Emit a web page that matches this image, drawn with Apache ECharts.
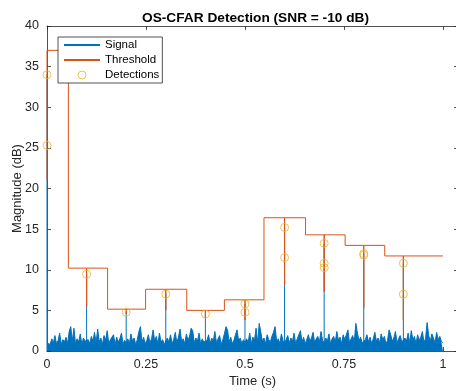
<!DOCTYPE html>
<html>
<head>
<meta charset="utf-8">
<script src="https://cdn.jsdelivr.net/npm/echarts@6/dist/echarts.min.js"></script>
<style>
html,body{margin:0;padding:0;background:#fff;}
#chart{width:456px;height:391px;}
</style>
</head>
<body>
<div id="chart"></div>
<script>
// ---- data ----
const sampleStep = 0.004; // seconds between noise samples (0..1 s)
const noise = [
1.0,1.2,0.8,1.5,1.0,1.9,0.9,1.3,2.2,0.8,1.4,1.1,1.7,0.9,2.4,3.0,1.2,2.8,0.9,1.5,1.1,2.1,0.8,1.6,1.2,
1.0,1.4,0.9,1.8,1.2,2.3,1.0,2.7,1.1,1.6,0.8,1.9,1.3,2.5,0.9,1.4,1.2,2.0,0.8,1.7,1.1,1.5,2.2,0.9,1.3,
1.0,1.5,0.9,2.1,1.2,1.6,0.8,1.4,2.4,3.0,1.1,1.7,0.9,1.3,2.0,1.0,1.5,2.6,1.2,1.8,0.9,2.2,1.1,1.4,0.8,
1.0,1.6,1.1,2.0,0.9,1.4,2.3,1.0,1.7,2.7,1.2,1.5,0.9,2.1,1.3,1.8,2.8,2.5,1.0,1.6,1.2,2.2,0.9,1.5,1.1,
1.0,1.3,2.0,0.9,1.6,1.2,2.4,1.0,1.5,1.9,0.8,1.4,2.1,3.0,2.6,1.1,1.7,0.9,1.3,2.0,2.6,1.2,1.6,0.9,1.4,
1.0,1.5,1.1,2.2,0.9,1.7,1.3,2.8,1.0,3.4,2.3,1.2,1.6,0.9,2.0,1.4,1.1,1.8,2.3,3.0,1.2,1.5,0.9,2.1,1.3,
1.0,1.4,1.9,1.0,1.6,1.2,2.2,0.9,1.5,1.3,2.5,1.1,1.7,0.9,1.4,2.0,1.2,1.6,2.3,1.0,1.5,1.8,1.1,2.4,1.3,
1.0,1.6,1.2,2.1,0.9,1.5,1.8,1.1,2.4,1.3,1.7,0.9,2.0,1.4,1.2,2.6,1.0,1.5,1.9,1.1,3.4,2.2,1.3,1.7,1.0,
1.0,1.4,2.0,1.1,1.7,0.9,1.5,2.3,1.2,1.6,1.0,2.1,1.4,1.8,0.9,1.3,2.6,2.0,1.2,1.6,2.4,1.0,1.5,1.9,1.1,
1.0,1.6,1.2,2.2,1.0,2.5,1.4,1.8,0.9,2.0,1.3,1.7,2.4,1.1,1.5,3.5,1.9,1.2,2.1,1.6,1.0,2.3,1.4,1.8,1.2,1.0
];
const targetTimes = [0, 0.1, 0.2, 0.3, 0.4, 0.5, 0.6, 0.7, 0.8, 0.9];
const targetPeaks = [34, 9.5, 4.8, 7.0, 4.6, 5.8, 15.2, 13.2, 12.0, 10.8];
const thrEdges  = [0, 0.054, 0.153, 0.249, 0.353, 0.448, 0.548, 0.653, 0.753, 0.853, 1.0];
const thrLevels = [37, 10.2, 5.15, 7.6, 5.0, 6.3, 16.4, 14.3, 13.0, 11.7];
const thrDips   = [21, 5.5, 4.6, 5.0, 4.2, 3.8, 8.1, 7.3, 5.3, 3.8];
const detTimes  = [0, 0, 0.1, 0.2, 0.3, 0.4, 0.5, 0.5, 0.6, 0.6, 0.7, 0.7, 0.7, 0.8, 0.8, 0.9, 0.9];
const detValues = [34, 25.3, 9.45, 4.76, 7.0, 4.55, 5.8, 4.76, 15.2, 11.5, 13.25, 10.8, 10.25, 11.98, 11.8, 10.8, 7.0];
const xTickLabels = [0, 0.25, 0.5, 0.75, 1];
const yTickLabels = [0, 5, 10, 15, 20, 25, 30, 35, 40];

// ---- build series data ----
const noiseData = noise.map((v, i) => [i * sampleStep, v]);
const spikeData = [];
targetTimes.forEach((t, j) => { spikeData.push([t, 0], [t, targetPeaks[j]], [t, '-']); });
const thrData = [];
for (let i = 0; i < thrLevels.length; i++) {
  const s = thrEdges[i], e = thrEdges[i + 1], L = thrLevels[i];
  targetTimes.forEach((t, j) => { if (t === s) thrData.push([t, thrDips[j]]); });
  thrData.push([s, L]);
  targetTimes.forEach((t, j) => { if (t > s && t < e) thrData.push([t, L], [t, thrDips[j]], [t, L]); });
  thrData.push([e, L]);
}
const detData = detTimes.map((t, i) => [t, detValues[i]]);

const FONT = 'Liberation Sans, Arial, Helvetica, sans-serif';
const AX = '#262626';
const xStep = xTickLabels[1] - xTickLabels[0];
const yStep = yTickLabels[1] - yTickLabels[0];
const xMax = 1.038;
const isXTick = v => Math.abs(v / xStep - Math.round(v / xStep)) < 1e-6;
const hiddenSymbol = {color: 'rgba(0,0,0,0)', borderWidth: 0, opacity: 0};

const chart = echarts.init(document.getElementById('chart'), null, {renderer: 'canvas'});
chart.setOption({
  animation: false,
  backgroundColor: '#fff',
  title: {
    text: 'OS-CFAR Detection (SNR = -10 dB)',
    left: 137, top: 6,
    textStyle: {fontFamily: FONT, fontSize: 13.7, fontWeight: 'bold', color: '#000'}
  },
  grid: {left: 47, top: 26, right: -2, bottom: 40, containLabel: false, outerBoundsMode: 'none'},
  legend: {
    orient: 'vertical', left: 58, top: 37,
    backgroundColor: '#fff', borderColor: AX, borderWidth: 0.8,
    padding: [1, 3, 1, 5],
    itemWidth: 36, itemHeight: 8, itemGap: 1,
    textStyle: {fontFamily: FONT, fontSize: 11.5, color: '#000', lineHeight: 14},
    data: [
      {name: 'Signal', itemStyle: hiddenSymbol},
      {name: 'Threshold', itemStyle: hiddenSymbol},
      {name: 'Detections', icon: 'circle', itemStyle: {color: 'rgba(0,0,0,0)', borderColor: '#EDB120', borderWidth: 1}}
    ]
  },
  xAxis: [{
    type: 'value', position: 'bottom', min: 0, max: xMax, interval: xStep,
    name: 'Time (s)', nameLocation: 'middle', nameGap: 24, nameMoveOverlap: false,
    nameTextStyle: {fontFamily: FONT, fontSize: 13, color: AX},
    axisLine: {show: true, onZero: false, lineStyle: {color: AX, width: 0.8}},
    axisTick: {show: true, inside: true, length: 4, lineStyle: {color: AX, width: 0.8}},
    axisLabel: {fontFamily: FONT, fontSize: 12.5, color: AX, margin: 7,
      formatter: v => isXTick(v) ? String(v) : ''},
    splitLine: {show: false}
  }, {
    type: 'value', position: 'top', min: 0, max: xMax, interval: xStep,
    axisLine: {show: true, onZero: false, lineStyle: {color: AX, width: 0.8}},
    axisTick: {show: true, inside: true, length: 4, lineStyle: {color: AX, width: 0.8}},
    axisLabel: {show: false}, splitLine: {show: false}
  }],
  yAxis: [{
    type: 'value', position: 'left', min: 0, max: 40, interval: yStep,
    name: 'Magnitude (dB)', nameLocation: 'middle', nameGap: 23, nameMoveOverlap: false,
    nameTextStyle: {fontFamily: FONT, fontSize: 13, color: AX},
    axisLine: {show: true, onZero: false, lineStyle: {color: AX, width: 0.8}},
    axisTick: {show: true, inside: true, length: 4, lineStyle: {color: AX, width: 0.8}},
    axisLabel: {fontFamily: FONT, fontSize: 12.5, color: AX, margin: 8},
    splitLine: {show: false}
  }, {
    type: 'value', position: 'right', min: 0, max: 40, interval: yStep,
    axisLine: {show: true, onZero: false, lineStyle: {color: AX, width: 0.8}},
    axisTick: {show: true, inside: true, length: 4, lineStyle: {color: AX, width: 0.8}},
    axisLabel: {show: false}, splitLine: {show: false}
  }],
  series: [{
    name: 'Signal', type: 'line', data: noiseData, symbol: 'none',
    lineStyle: {color: '#0072BD', width: 1}, itemStyle: {color: '#0072BD'},
    areaStyle: {color: '#0072BD', opacity: 1, origin: 'start'}, z: 2
  }, {
    name: 'Signal', type: 'line', data: spikeData, symbol: 'none', connectNulls: false,
    lineStyle: {color: '#0072BD', width: 1}, itemStyle: {color: '#0072BD'}, z: 2
  }, {
    name: 'Threshold', type: 'line', data: thrData, symbol: 'none',
    lineStyle: {color: '#D95319', width: 1}, itemStyle: {color: '#D95319'}, z: 3
  }, {
    name: 'Detections', type: 'scatter', data: detData, symbol: 'circle', symbolSize: 8,
    itemStyle: {color: 'rgba(0,0,0,0)', borderColor: '#EDB120', borderWidth: 1}, z: 4
  }]
});
</script>
</body>
</html>
